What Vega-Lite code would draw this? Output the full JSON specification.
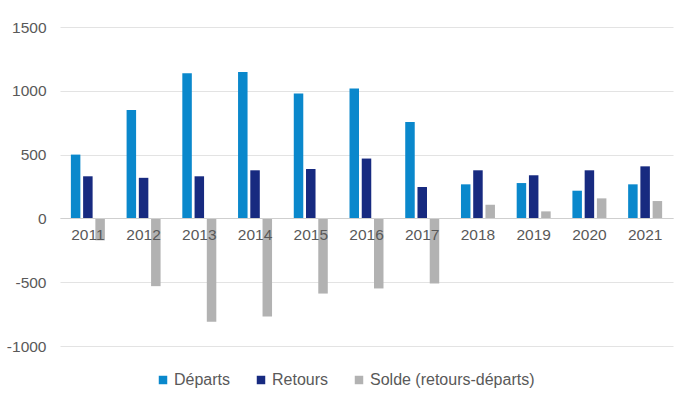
{
  "$schema": "https://vega.github.io/schema/vega-lite/v6.json",
  "width": 613,
  "height": 319,
  "autosize": {"type": "none"},
  "padding": {"left": 60, "top": 27, "right": 27, "bottom": 49},
  "background": "white",
  "config": {
    "view": {"stroke": null},
    "font": "Liberation Sans",
    "axis": {"labelFont": "Liberation Sans", "labelColor": "#595959"},
    "legend": {"labelFont": "Liberation Sans", "labelColor": "#595959"}
  },
  "data": {
    "values": [
      {"annee": "2011", "serie": "Départs", "valeur": 500},
      {"annee": "2011", "serie": "Retours", "valeur": 330},
      {"annee": "2011", "serie": "Solde (retours-départs)", "valeur": -172},
      {"annee": "2012", "serie": "Départs", "valeur": 850},
      {"annee": "2012", "serie": "Retours", "valeur": 318},
      {"annee": "2012", "serie": "Solde (retours-départs)", "valeur": -531},
      {"annee": "2013", "serie": "Départs", "valeur": 1138},
      {"annee": "2013", "serie": "Retours", "valeur": 330},
      {"annee": "2013", "serie": "Solde (retours-départs)", "valeur": -810},
      {"annee": "2014", "serie": "Départs", "valeur": 1148},
      {"annee": "2014", "serie": "Retours", "valeur": 377},
      {"annee": "2014", "serie": "Solde (retours-départs)", "valeur": -769},
      {"annee": "2015", "serie": "Départs", "valeur": 979},
      {"annee": "2015", "serie": "Retours", "valeur": 387},
      {"annee": "2015", "serie": "Solde (retours-départs)", "valeur": -589},
      {"annee": "2016", "serie": "Départs", "valeur": 1018},
      {"annee": "2016", "serie": "Retours", "valeur": 469},
      {"annee": "2016", "serie": "Solde (retours-départs)", "valeur": -549},
      {"annee": "2017", "serie": "Départs", "valeur": 756},
      {"annee": "2017", "serie": "Retours", "valeur": 246},
      {"annee": "2017", "serie": "Solde (retours-départs)", "valeur": -510},
      {"annee": "2018", "serie": "Départs", "valeur": 267},
      {"annee": "2018", "serie": "Retours", "valeur": 377},
      {"annee": "2018", "serie": "Solde (retours-départs)", "valeur": 107},
      {"annee": "2019", "serie": "Départs", "valeur": 277},
      {"annee": "2019", "serie": "Retours", "valeur": 338},
      {"annee": "2019", "serie": "Solde (retours-départs)", "valeur": 55},
      {"annee": "2020", "serie": "Départs", "valeur": 217},
      {"annee": "2020", "serie": "Retours", "valeur": 377},
      {"annee": "2020", "serie": "Solde (retours-départs)", "valeur": 157},
      {"annee": "2021", "serie": "Départs", "valeur": 267},
      {"annee": "2021", "serie": "Retours", "valeur": 408},
      {"annee": "2021", "serie": "Solde (retours-départs)", "valeur": 136}
    ]
  },
  "mark": {"type": "bar"},
  "encoding": {
    "x": {
      "field": "annee",
      "type": "nominal",
      "sort": null,
      "title": null,
      "scale": {"paddingInner": 0.39, "paddingOuter": 0.195},
      "axis": {
        "orient": "bottom",
        "offset": -128,
        "zindex": 1,
        "grid": false,
        "ticks": false,
        "domain": true,
        "domainColor": "#cfcfcf",
        "domainWidth": 1,
        "labelAngle": 0,
        "labelFontSize": 15.5,
        "labelPadding": 9
      }
    },
    "xOffset": {
      "field": "serie",
      "type": "nominal",
      "sort": ["Départs", "Retours", "Solde (retours-départs)"],
      "scale": {"paddingInner": 0.224, "paddingOuter": 0}
    },
    "y": {
      "field": "valeur",
      "type": "quantitative",
      "title": null,
      "scale": {"domain": [-1000, 1500], "nice": false, "zero": true},
      "axis": {
        "values": [-1000, -500, 0, 500, 1000, 1500],
        "labelExpr": "'' + datum.value",
        "domain": false,
        "ticks": false,
        "grid": true,
        "gridColor": "#e3e3e3",
        "gridWidth": 1,
        "labelFontSize": 15.5,
        "labelPadding": 14,
        "zindex": 0
      }
    },
    "color": {
      "field": "serie",
      "type": "nominal",
      "sort": ["Départs", "Retours", "Solde (retours-départs)"],
      "scale": {
        "domain": ["Départs", "Retours", "Solde (retours-départs)"],
        "range": ["#0a88cc", "#172a80", "#b2b2b2"]
      },
      "legend": {
        "title": null,
        "orient": "none",
        "direction": "horizontal",
        "legendX": 95,
        "legendY": 345,
        "padding": 0,
        "symbolType": "square",
        "symbolSize": 72,
        "symbolStrokeWidth": 0,
        "symbolOpacity": 1,
        "labelFontSize": 16,
        "labelLimit": 0,
        "labelOffset": 3,
        "columnPadding": 22
      }
    }
  }
}
